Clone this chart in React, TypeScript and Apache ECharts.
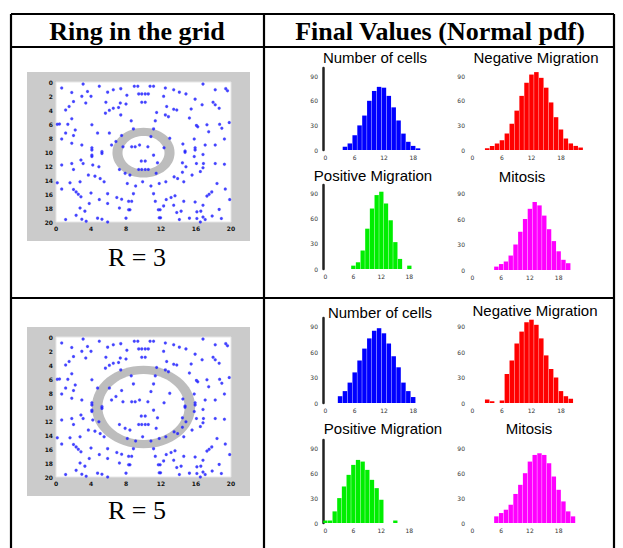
import React, { useEffect, useRef } from 'react';
import * as echarts from 'echarts';

// ---------- DATA ----------
const headerLeft = 'Ring in the grid';
const headerRight = 'Final Values (Normal pdf)';
const rowLabels = ['R = 3', 'R = 5'];
const panelTitles = ['Number of cells', 'Negative Migration', 'Positive Migration', 'Mitosis'];

// ring: [centerX, centerY, innerRadius, outerRadius] in grid units
const ringR3 = [[10, 10.1, 2.4, 3.55]];
const ringR5 = [[10, 10, 4.7, 5.9]];

// cell positions on the 20 x 20 grid (x, y from top)
const gridDots = [
  [3.1,0.3],[16.8,0.3],[0.65,0.85],[4.95,0.6],[8.95,0.6],[9.35,0.6],[10.75,0.6],[11.15,0.6],[7.4,0.95],[12.5,0.85],
  [19.4,0.95],[19.6,1.25],[1.8,1.5],[3.6,1.35],[5.9,1.45],[6.55,1.1],[13.45,1.1],[14.1,1.45],[18.2,1.1],
  [9.45,1.7],[9.8,1.7],[10.2,1.7],[10.55,1.7],[2.95,2.05],[4.0,2.05],[8.1,1.9],[12.3,2.05],[14.85,1.7],[15.9,2.45],
  [2.0,2.8],[3.4,3.0],[5.7,2.9],[9.8,2.9],[10.2,2.9],[7.35,3.0],[16.7,3.25],[17.95,2.9],[18.2,3.25],[1.5,3.5],[1.1,4.0],
  [6.55,3.75],[7.15,3.65],[6.1,4.05],[8.0,3.15],[12.65,3.5],[13.45,3.9],[13.8,4.0],[15.45,3.85],[18.65,3.75],[5.65,4.45],
  [7.4,4.7],[11.5,4.35],[12.5,4.7],[12.85,4.95],[1.8,5.25],[8.6,5.55],[11.35,5.55],[15.25,5.15],[0.15,6.05],[0.4,6.0],
  [1.35,6.05],[4.1,6.1],[16.05,6.2],[16.2,6.4],[17.25,6.1],[18.7,6.05],[19.8,5.8],[2.2,6.85],[1.1,7.3],[4.75,7.3],
  [6.1,7.3],[8.85,6.7],[11.15,6.7],[18.95,6.6],[17.45,7.1],[2.0,7.65],[7.5,7.65],[10.85,7.8],[0.65,8.15],[6.85,8.5],
  [13.0,8.05],[15.8,8.15],[19.25,8.15],[1.8,8.75],[2.95,9.0],[4.1,9.4],[4.1,9.7],[5.25,9.95],[5.25,10.2],[6.35,9.0],
  [7.65,9.25],[8.65,9.25],[9.55,9.0],[10.5,9.25],[12.35,9.4],[14.5,8.85],[14.75,9.85],[14.75,10.05],[15.9,9.4],[15.9,9.7],
  [17.05,9.0],[18.2,9.0],[4.1,10.45],[4.1,10.65],[2.85,11.15],[11.15,10.45],[15.8,10.65],[16.8,10.35],[0.65,11.85],[1.8,11.65],
  [2.0,12.5],[3.1,11.65],[4.2,11.85],[4.9,12.1],[7.25,12.5],[9.75,11.3],[10.2,11.3],[11.6,11.55],[14.45,11.55],[14.85,12.1],
  [16.05,11.65],[16.85,11.65],[18.2,11.65],[19.25,11.75],[16.8,12.25],[16.5,12.8],[3.7,13.3],[4.45,13.45],[7.9,13.05],[8.45,13.3],
  [9.45,12.5],[9.8,12.5],[10.2,12.5],[10.55,12.5],[11.45,13.05],[14.45,12.9],[13.9,13.8],[15.55,13.3],[0.15,14.4],[1.6,14.4],
  [2.75,14.25],[5.05,13.8],[5.5,14.25],[8.15,14.5],[9.1,14.85],[9.9,14.25],[10.85,14.85],[11.8,14.5],[12.55,14.25],[13.5,13.55],
  [14.6,14.25],[0.65,15.3],[2.0,15.35],[2.3,15.7],[2.55,16.05],[2.85,16.4],[4.0,15.85],[5.9,15.95],[6.95,16.5],[7.5,16.75],
  [8.85,15.95],[11.15,15.95],[13.6,16.25],[12.6,16.8],[13.15,16.5],[14.6,17.05],[17.8,15.7],[17.5,16.05],[17.25,16.3],[18.4,14.5],
  [19.35,15.3],[19.85,16.8],[4.95,16.8],[3.8,17.35],[5.9,17.35],[8.3,17.05],[8.65,17.05],[7.25,18.0],[2.75,18.0],[11.35,17.05],
  [12.3,17.7],[13.45,17.6],[15.9,17.15],[16.8,17.6],[18.65,18.2],[3.3,18.45],[8.3,18.25],[8.45,18.25],[11.7,18.25],[11.9,18.25],
  [13.8,18.65],[14.3,18.45],[16.1,18.55],[16.55,18.45],[2.3,19.05],[1.1,19.65],[2.95,19.6],[3.45,19.9],[4.75,19.45],[5.25,19.6],
  [5.9,20.0],[8.0,19.45],[11.8,19.4],[11.95,19.4],[14.1,19.65],[15.25,19.45],[16.1,19.5],[16.8,19.3],[17.05,19.65],[16.5,20.0],
  [17.85,19.15],[18.9,19.5],[9.05,9.25],
];

const binLabels = ['0','1','2','3','4','5','6','7','8','9','10','11','12','13','14','15','16','17','18','19','20','21','22','23'];

// histogram heights (% of axis height), R = 3
const cellsR3 = [0,0,0,0,4,8,18,30,42,60,72,77,76,66,52,36,20,10,5,2,0,0,0,0];
const negR3   = [0,0,0,2,5,8,12,20,32,48,66,82,92,95,88,76,58,40,25,14,8,5,3,0];
const posR3   = [0,0,0,0,0,0,4,8,22,48,72,88,92,78,58,32,12,0,4,0,0,0,0,0];
const mitR3   = [0,0,0,0,0,4,7,10,17,30,45,60,72,80,76,64,48,34,22,12,8,0,0,0];
// R = 5
const cellsR5 = [0,0,0,8,14,24,36,50,64,76,85,88,82,70,55,42,24,14,7,0,0,0,0,0];
const negR5   = [0,0,0,4,2,0,3,34,50,70,84,95,98,92,76,56,40,30,14,8,5,0,0,0];
const posR5   = [3,3,14,30,44,58,70,76,74,64,52,42,28,0,0,3,0,0,0,0,0,0,0,0];
const mitR5   = [0,0,0,0,0,8,12,16,22,35,46,60,74,82,84,82,72,56,40,26,14,8,0,0];

const colors = ['#0000ff', '#ff0000', '#00ee00', '#ff00ff'];

export default function App() {
  const ref = useRef<HTMLDivElement>(null);
  useEffect(() => {
    if (!ref.current) return;
    const chart = echarts.init(ref.current, null, { renderer: 'svg' });

    const grids: any[] = [];
    const xAxes: any[] = [];
    const yAxes: any[] = [];
    const series: any[] = [];
    const graphic: any[] = [];

    // table lines
    const L = 11, R = 614, T = 14, HB = 47, RD = 298, CD = 264, B = 548;
    const lines = [[L, T, R, T], [L, HB, R, HB], [L, RD, R, RD], [L, T, L, B], [R, T, R, B], [CD, T, CD, B]];
    lines.forEach((l) => graphic.push({ type: 'line', shape: { x1: l[0], y1: l[1], x2: l[2], y2: l[3] }, style: { stroke: '#000', lineWidth: 2.2 }, z: 100 }));
    graphic.push({ type: 'text', x: 137, y: 31, style: { text: headerLeft, fill: '#000', font: 'bold 26px "Liberation Serif"', align: 'center', verticalAlign: 'middle' } });
    graphic.push({ type: 'text', x: 440, y: 31, style: { text: headerRight, fill: '#000', font: 'bold 26px "Liberation Serif"', align: 'center', verticalAlign: 'middle' } });

    // ring images
    const imgTops = [82, 337];
    const rings = [ringR3, ringR5];
    const labelY = [257, 510];
    imgTops.forEach((top, k) => {
      graphic.push({ type: 'rect', shape: { x: 27, y: top - 10, width: 223, height: 169 }, style: { fill: '#cbcbcb' }, z: -10 });
      graphic.push({ type: 'text', x: 137, y: labelY[k], style: { text: rowLabels[k], fill: '#000', font: '26px "Liberation Serif"', align: 'center', verticalAlign: 'middle' } });
      grids.push({ left: 56, top, width: 175, height: 140, show: true, backgroundColor: '#ffffff', borderColor: '#e6e6e6', borderWidth: 1 });
      xAxes.push({ type: 'value', gridIndex: k, min: 0, max: 20, interval: 4,
        axisLine: { show: false }, axisTick: { show: false }, splitLine: { show: false },
        axisLabel: { fontSize: 6, fontWeight: 'bold', color: '#111', margin: 3, fontFamily: 'DejaVu Sans' } });
      yAxes.push({ type: 'value', gridIndex: k, min: 0, max: 20, interval: 2, inverse: true,
        axisLine: { show: false }, axisTick: { show: false }, splitLine: { show: false },
        axisLabel: { fontSize: 6, fontWeight: 'bold', color: '#111', margin: 3, fontFamily: 'DejaVu Sans' } });
      series.push({
        type: 'custom', xAxisIndex: k, yAxisIndex: k, data: rings[k], encode: { x: 0, y: 1 }, silent: true, z: 1,
        renderItem: (params: any, api: any) => {
          const c = api.coord([api.value(0), api.value(1)]);
          const s = api.size([1, 1]);
          const ri = api.value(2), ro = api.value(3);
          return { type: 'group', children: [
            { type: 'ellipse', shape: { cx: c[0], cy: c[1], rx: ro * s[0], ry: ro * s[1] }, style: { fill: '#bdbdbd' } },
            { type: 'ellipse', shape: { cx: c[0], cy: c[1], rx: ri * s[0], ry: ri * s[1] }, style: { fill: '#ffffff' } },
          ] };
        },
      });
      series.push({ type: 'scatter', xAxisIndex: k, yAxisIndex: k, data: gridDots, symbolSize: 3, silent: true, z: 3,
        itemStyle: { color: '#1414ff', borderColor: 'rgba(110,110,255,0.5)', borderWidth: 0.6 } });
    });

    // histograms
    const panels = [
      { t: 0, data: cellsR3, grid: { left: 323, top: 68, width: 117, height: 82 }, axis: true, title: [375, 57] },
      { t: 1, data: negR3, grid: { left: 470, top: 68, width: 118, height: 82 }, axis: false, title: [536, 57] },
      { t: 2, data: posR3, grid: { left: 323, top: 185, width: 112, height: 84 }, axis: true, title: [373, 175] },
      { t: 3, data: mitR3, grid: { left: 470, top: 185, width: 115, height: 85 }, axis: false, title: [522, 176] },
      { t: 0, data: cellsR5, grid: { left: 323, top: 318, width: 117, height: 85 }, axis: true, title: [380, 312] },
      { t: 1, data: negR5, grid: { left: 470, top: 318, width: 118, height: 85 }, axis: false, title: [535, 310] },
      { t: 2, data: posR5, grid: { left: 323, top: 440, width: 112, height: 83 }, axis: true, title: [383, 428] },
      { t: 3, data: mitR5, grid: { left: 470, top: 440, width: 115, height: 83 }, axis: false, title: [529, 428] },
    ];
    panels.forEach((p, i) => {
      const gi = i + 2;
      grids.push({ ...p.grid });
      xAxes.push({ type: 'category', gridIndex: gi, data: binLabels, boundaryGap: true,
        axisLine: { show: false }, axisTick: { show: false }, splitLine: { show: false },
        axisLabel: { interval: 5, fontSize: 6, color: '#333', margin: 4, fontFamily: 'DejaVu Sans' } });
      yAxes.push({ type: 'value', gridIndex: gi, min: 0, max: 100, interval: 30,
        axisLine: { show: p.axis, lineStyle: { color: '#222', width: 2.5 } }, axisTick: { show: false }, splitLine: { show: false },
        axisLabel: { fontSize: 6, color: '#333', margin: 5, fontFamily: 'DejaVu Sans', showMaxLabel: false } });
      series.push({ type: 'bar', xAxisIndex: gi, yAxisIndex: gi, data: p.data, barCategoryGap: '8%', silent: true,
        itemStyle: { color: colors[p.t] } });
      graphic.push({ type: 'text', x: p.title[0], y: p.title[1], z: 50,
        style: { text: panelTitles[p.t], fill: '#000', font: '15px "Liberation Sans"', align: 'center', verticalAlign: 'middle',
          backgroundColor: '#fff', padding: [0, 2] } });
    });

    chart.setOption({
      animation: false,
      backgroundColor: '#ffffff',
      grid: grids,
      xAxis: xAxes,
      yAxis: yAxes,
      series,
      graphic,
    });
    return () => chart.dispose();
  }, []);
  return <div ref={ref} style={{ position: 'absolute', left: 0, top: 0, width: 623, height: 548 }} />;
}
